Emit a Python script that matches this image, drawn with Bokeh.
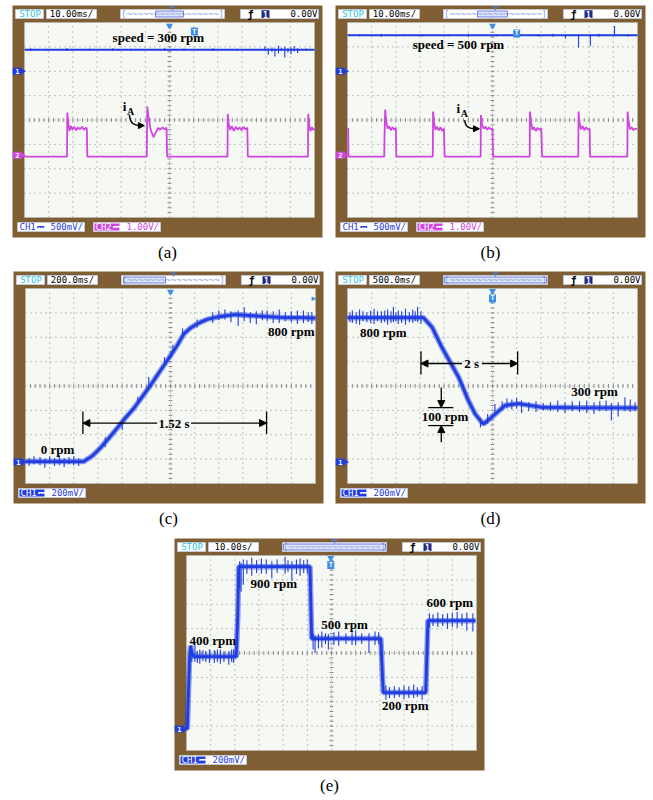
from bokeh.plotting import figure
from bokeh.models import Range1d, Arrow, NormalHead
from bokeh.embed import file_html
from bokeh.resources import INLINE
from bokeh.core.properties import value

W, H = 653, 800
BEZEL = "#7f5e33"
SCREEN = "#f5f8f3"
GRID = "#8a8a8a"
BLUE = "#1f3de0"
MAGENTA = "#cf45e0"
CYAN = "#2cc6e6"
MONO = value("DejaVu Sans Mono")
SERIF = value("Liberation Serif")

# speed sensor gain on CH1 (mV per rpm)
SPEED_MV_PER_RPM = 200 / 135.5

# ---------------- (a) 10 ms/div, steady 300 rpm ----------------
a_speed_t = [0, 120]
a_speed_rpm = [300, 300]
a_spike_t = [2.5, 9.0, 17.5, 27.0, 36.5, 44.0, 58.0, 66.0, 78.0, 88.0, 99.5, 100.9,
             102.4, 103.6, 105.1, 106.3, 107.7, 109.0, 110.3, 111.6, 113.0, 116.5]
a_spike_lo = [285, 290, 280, 288, 285, 290, 283, 287, 285, 290, 285, 230,
              270, 205, 245, 280, 190, 260, 235, 275, 255, 285]
a_spike_hi = [318, 312, 322, 315, 318, 312, 320, 316, 318, 314, 345, 320,
              330, 315, 355, 325, 340, 320, 330, 350, 320, 315]
# phase current iA on CH2 (V), pairs of (ms, V)
a_ia = [(0, 0), (17.6, 0), (17.7, 1.80), (18.1, 1.40), (18.6, 1.05), (19.2, 1.25),
        (19.9, 1.10), (20.6, 1.22), (21.4, 1.08), (22.2, 1.20), (23.0, 1.12),
        (23.8, 1.22), (24.6, 1.10), (25.4, 1.18), (25.8, 1.15), (26.0, 0),
        (50.6, 0), (50.8, 2.05), (51.3, 1.65), (52.2, 1.10), (53.4, 0.80),
        (54.4, 1.00), (55.3, 1.18), (56.2, 1.10), (57.1, 1.20), (58.0, 1.12),
        (58.8, 1.18), (59.0, 0),
        (84.0, 0), (84.1, 1.75), (84.5, 1.35), (85.1, 1.10), (85.8, 1.25),
        (86.6, 1.05), (87.4, 1.22), (88.2, 1.10), (89.0, 1.20), (89.8, 1.08),
        (90.6, 1.22), (91.4, 1.12), (92.2, 1.18), (92.4, 0),
        (117.3, 0), (117.4, 1.75), (117.8, 1.30), (118.3, 1.05), (118.9, 1.20),
        (119.5, 1.10), (120, 1.15)]

# ---------------- (b) 10 ms/div, steady 500 rpm ----------------
b_speed_t = [0, 120]
b_speed_rpm = [500, 500]
b_spike_t = [5.0, 14.0, 23.0, 31.0, 42.0, 50.0, 62.0, 70.5, 79.0, 85.0, 90.2,
             95.6, 100.5, 104.0, 110.5, 116.0]
b_spike_lo = [485, 480, 488, 482, 486, 480, 484, 470, 483, 478, 455, 330, 350, 480, 490, 484]
b_spike_hi = [515, 520, 512, 518, 516, 522, 515, 525, 517, 520, 515, 510, 515, 520, 630, 516]
b_ia = [(0, 1.15), (0.3, 1.15), (0.4, 0),
        (15.2, 0), (15.3, 0.7), (15.6, 1.93), (16.0, 1.45), (16.6, 1.15), (17.2, 1.25),
        (17.9, 1.08), (18.6, 1.20), (19.3, 1.10), (20.0, 1.18), (20.2, 0),
        (35.3, 0), (35.4, 1.85), (35.8, 1.40), (36.4, 1.10), (37.1, 1.22), (37.8, 1.08),
        (38.5, 1.20), (39.2, 1.05), (39.9, 1.15), (40.2, 0),
        (55.1, 0), (55.2, 1.70), (55.7, 1.30), (56.4, 1.15), (57.1, 1.22), (57.8, 1.10),
        (58.5, 1.20), (59.3, 1.12), (60.0, 1.15), (60.2, 0),
        (75.4, 0), (75.5, 1.85), (75.9, 1.45), (76.5, 1.10), (77.2, 1.20), (77.9, 1.05),
        (78.6, 1.18), (79.4, 1.10), (80.2, 1.15), (80.5, 0),
        (95.5, 0), (95.6, 1.85), (96.0, 1.40), (96.6, 1.12), (97.3, 1.25), (98.0, 1.08),
        (98.7, 1.20), (99.5, 1.10), (100.2, 1.15), (100.4, 0),
        (115.8, 0), (115.9, 1.85), (116.3, 1.45), (116.9, 1.12), (117.6, 1.20),
        (118.3, 1.08), (119.0, 1.15), (120, 1.12)]

# ---------------- (c) 200 ms/div, start-up 0 -> 800 rpm ----------------
c_t = [0, 0.48, 0.55, 0.62, 0.69, 0.76, 0.83, 0.90, 0.97, 1.04, 1.11, 1.18, 1.25,
       1.31, 1.36, 1.40, 1.45, 1.51, 1.60, 1.73, 1.85, 2.00, 2.15, 2.30, 2.40]
c_rpm = [0, 0, 30, 76, 130, 187, 245, 299, 364, 429, 499, 569, 640,
         709, 740, 757, 775, 792, 805, 817, 812, 806, 800, 800, 797]
c_spike_t = [0.03, 0.07, 0.12, 0.16, 0.20, 0.24, 0.28, 0.32, 0.36, 0.40, 0.44,
             0.66, 0.80, 0.93, 1.02, 1.15, 1.22, 1.30, 1.42,
             1.55, 1.60, 1.65, 1.70, 1.76, 1.81, 1.86, 1.91, 1.96, 2.00, 2.05,
             2.10, 2.15, 2.20, 2.25, 2.30, 2.34, 2.37]
c_spike_lo = [-25, -15, -20, -35, -10, -25, -20, -30, -15, -20, -25,
              80, 175, 330, 420, 530, 610, 690, 745,
              770, 785, 790, 775, 754, 780, 770, 764, 785, 780, 770,
              770, 780, 775, 765, 770, 775, 765]
c_spike_hi = [20, 30, 25, 15, 30, 20, 35, 20, 25, 30, 20,
              135, 230, 360, 470, 580, 650, 740, 790,
              830, 840, 845, 835, 840, 858, 830, 835, 840, 840, 835,
              845, 830, 835, 840, 840, 830, 830]
c_span_start, c_span = 0.475, 1.52

# ---------------- (d) 500 ms/div, 800 -> 300 rpm ----------------
d_t = [0, 1.57, 1.75, 1.95, 2.30, 2.50, 2.64, 2.81, 2.98, 3.26, 3.53, 4.01, 4.70, 6.0]
d_rpm = [800, 800, 747, 636, 469, 340, 265, 208, 246, 312, 322, 302, 300, 298]
d_spike_t = [0.05, 0.10, 0.18, 0.25, 0.32, 0.40, 0.48, 0.55, 0.62, 0.70, 0.77, 0.83,
             0.90, 0.95, 1.00, 1.05, 1.12, 1.20, 1.28, 1.35, 1.40, 1.45, 1.52,
             2.75, 2.90, 3.05, 3.20, 3.30, 3.40, 3.50, 3.60, 3.75, 3.90, 4.05,
             4.20, 4.35, 4.50, 4.65, 4.80, 4.95, 5.10, 5.22, 5.35, 5.46, 5.60,
             5.74, 5.85, 5.95]
d_spike_lo = [775, 770, 765, 760, 780, 775, 770, 765, 780, 770, 775, 760,
              770, 775, 780, 765, 770, 760, 775, 770, 780, 775, 765,
              190, 210, 260, 285, 295, 290, 295, 270, 280, 275, 285,
              280, 275, 270, 280, 275, 270, 265, 280, 280, 228, 250,
              280, 275, 280]
d_spike_hi = [830, 840, 830, 845, 835, 830, 840, 850, 835, 835, 840, 845,
              835, 860, 830, 840, 835, 850, 830, 845, 835, 860, 835,
              240, 265, 320, 335, 350, 345, 355, 340, 330, 335, 325,
              330, 340, 330, 335, 335, 340, 330, 335, 340, 325, 330,
              358, 345, 330]
d_span_start, d_span = 1.52, 2.0
d_level, d_dip = 300, 200

# ---------------- (e) 10 s/div, speed steps ----------------
e_t = [0, 0.35, 0.8, 1.3, 1.7, 2.3, 3.0, 20.6, 20.9, 21.2, 21.6, 51.1, 51.8,
       80.4, 81.4, 99.0, 99.9, 119.6]
e_rpm = [0, 0, 200, 400, 460, 420, 400, 400, 520, 620, 900, 900, 500,
         500, 200, 200, 600, 600]
e_spike_t = [2.2, 3.5, 4.5, 5.5, 6.8, 8.0, 9.5, 11.5, 12.8, 14.0, 15.5, 17.5, 18.7, 19.5,
             22.0, 22.6, 23.5, 25.0, 27.0, 29.0, 31.0, 33.0, 35.3, 37.5, 40.8, 42.0,
             43.6, 45.5, 47.0, 48.5, 50.0,
             52.4, 53.2, 54.6, 56.0, 57.5, 58.7, 61.0, 63.0, 66.0, 68.5, 70.0, 72.5,
             75.5, 78.0, 79.5,
             82.5, 84.0, 86.0, 88.0, 90.0, 92.0, 94.0, 95.5, 97.5,
             100.5, 102.0, 104.0, 106.0, 108.0, 110.0, 112.0, 114.0, 116.0, 118.5]
e_spike_lo = [370, 370, 365, 360, 375, 370, 365, 365, 370, 360, 370, 355, 370, 365,
              780, 760, 800, 860, 850, 865, 860, 860, 835, 865, 860, 870,
              820, 860, 850, 865, 860,
              440, 420, 445, 450, 470, 440, 465, 460, 470, 465, 465, 470,
              420, 465, 470,
              160, 170, 170, 175, 165, 170, 170, 175, 160,
              560, 570, 565, 570, 555, 565, 560, 570, 545, 540]
e_spike_hi = [440, 470, 430, 440, 435, 430, 440, 435, 440, 440, 430, 430, 440, 440,
              930, 920, 940, 935, 950, 935, 945, 940, 930, 940, 955, 935,
              930, 940, 945, 935, 940,
              530, 520, 525, 540, 530, 525, 535, 540, 530, 535, 545, 530,
              530, 540, 535,
              240, 230, 235, 230, 240, 235, 245, 230, 235,
              640, 635, 645, 635, 640, 645, 650, 640, 645, 640]

# ---------------- scope geometry ----------------
FRAMES = {"a": (12, 5), "b": (335, 5), "c": (13, 271), "d": (335, 271), "e": (174, 538)}
T_DIV = {"a": 10, "b": 10, "c": 0.2, "d": 0.5, "e": 10}
CHANNELS = {
    "a": {"ch1": (500 / SPEED_MV_PER_RPM, 6.0), "ch2": (1.0, 2.5)},
    "b": {"ch1": (500 / SPEED_MV_PER_RPM, 6.0), "ch2": (1.0, 2.5)},
    "c": {"ch1": (200 / SPEED_MV_PER_RPM, 0.9)},
    "d": {"ch1": (200 / SPEED_MV_PER_RPM, 0.9)},
    "e": {"ch1": (200 / SPEED_MV_PER_RPM, 0.9)},
}
DW, DH = 290 / 12, 195 / 8

p = figure(width=W, height=H, x_range=Range1d(0, W), y_range=Range1d(H, 0),
           output_backend="svg", toolbar_location=None,
           x_axis_type=None, y_axis_type=None, min_border=0)
p.outline_line_color = None
p.background_fill_color = "white"
p.border_fill_color = "white"

xr, yr = {}, {}
for key, (fx, fy) in FRAMES.items():
    sx0, sy1 = fx + 12, fy + 212
    td = T_DIV[key]
    xr[key] = Range1d(-sx0 / DW * td, (W - sx0) / DW * td)
    xr[key + "_div"] = Range1d(-sx0 / DW, (W - sx0) / DW)
    yr[key + "_div"] = Range1d((sy1 - H) / DH, sy1 / DH)
    for ch, (per, zero) in CHANNELS[key].items():
        yr[f"{key}_{ch}"] = Range1d(((sy1 - H) / DH - zero) * per, (sy1 / DH - zero) * per)
p.extra_x_ranges = xr
p.extra_y_ranges = yr


def mono(x, y, s, color, size="9px", align="left", style="normal"):
    p.text(x=[x], y=[y], text=[s], text_font=MONO, text_font_size=size,
           text_color=color, text_align=align, text_baseline="middle",
           text_font_style=style)


def chrome(key, timebase, win, ch1_setting, ch1_hl, ch2_setting=None):
    fx, fy = FRAMES[key]
    sx0, sy0 = fx + 12, fy + 17
    p.quad(left=[fx], right=[fx + 310], top=[fy], bottom=[fy + 232],
           fill_color=BEZEL, line_color=None)
    p.quad(left=[sx0], right=[sx0 + 290], top=[sy0], bottom=[sy0 + 195],
           fill_color=SCREEN, line_color="#b5b9b2", line_width=0.8)
    boxes = [(3, 31), (34, 84), (108, 212), (228, 306)]
    p.quad(left=[fx + a for a, b in boxes], right=[fx + b for a, b in boxes],
           top=fy + 4, bottom=fy + 13, fill_color="white",
           line_color="#c6cde2", line_width=0.8)
    mono(fx + 17.5, fy + 8.7, "STOP", CYAN, align="center")
    mono(fx + 59, fy + 8.7, timebase, "black", align="center")
    mono(fx + 160, fy + 8.9, "[" + "~" * 17 + "]", "#8ea2e6", size="9px", align="center")
    p.quad(left=[fx + win[0]], right=[fx + win[1]], top=fy + 5.5, bottom=fy + 11.5,
           fill_color="#9fb0f0", fill_alpha=0.35, line_color="#5468d8", line_width=0.8)
    p.segment(x0=[fx + 157, fx + 160], y0=[fy + 1.5, fy + 1.5],
              x1=[fx + 163, fx + 160], y1=[fy + 1.5, fy + 5], line_color="#4a80e0", line_width=1.2)
    mono(fx + 238, fy + 8.7, "ƒ", "black", size="10px", align="center", style="bold")
    p.quad(left=[fx + 249], right=[fx + 257], top=fy + 4.8, bottom=fy + 12.6,
           fill_color="#1d2a8a", line_color=None)
    mono(fx + 253, fy + 8.9, "1", "white", size="8px", align="center", style="bold")
    mono(fx + 305, fy + 8.7, "0.00V", "black", align="right")
    # channel settings along the bottom edge
    by = fy + 221.5
    p.quad(left=[fx + 5], right=[fx + 72], top=fy + 217, bottom=fy + 226,
           fill_color="white", line_color="#c6cde2", line_width=0.8)
    if ch1_hl:
        p.quad(left=[fx + 6], right=[fx + 31], top=fy + 218, bottom=fy + 225,
               fill_color=BLUE, line_color=None)
        mono(fx + 7, by, "CH1", "white")
        mono(fx + 24, by, "⎓", "white")
    else:
        mono(fx + 7, by, "CH1", BLUE)
        mono(fx + 24, by, "⎓", BLUE)
    mono(fx + 38, by, ch1_setting, BLUE)
    if ch2_setting:
        p.quad(left=[fx + 81], right=[fx + 148], top=fy + 217, bottom=fy + 226,
               fill_color="white", line_color="#c6cde2", line_width=0.8)
        p.quad(left=[fx + 82], right=[fx + 107], top=fy + 218, bottom=fy + 225,
               fill_color=MAGENTA, line_color=None)
        mono(fx + 83, by, "CH2", "white")
        mono(fx + 100, by, "⎓", "white")
        mono(fx + 114, by, ch2_setting, MAGENTA)
    # panel caption
    p.text(x=[fx + 155], y=[fy + 247], text=[f"({key})"], text_font=SERIF,
           text_font_size="17px", text_color="black", text_align="center",
           text_baseline="middle")


def grid(key):
    kw = dict(x_range_name=key + "_div", y_range_name=key + "_div")
    xs = list(range(1, 12))
    ys = list(range(1, 8))
    p.segment(x0=xs, y0=0, x1=xs, y1=8, line_color=GRID, line_width=1, line_dash="1 4", **kw)
    p.segment(x0=0, y0=ys, x1=12, y1=ys, line_color=GRID, line_width=1, line_dash="1 4", **kw)
    ty = [k * 0.2 for k in range(1, 40)]
    tx = [k * 0.2 for k in range(1, 60)]
    p.segment(x0=5.92, y0=ty, x1=6.08, y1=ty, line_color=GRID, line_width=1, **kw)
    p.segment(x0=tx, y0=3.92, x1=tx, y1=4.08, line_color=GRID, line_width=1, **kw)


def channel_tag(key, zero, label, color):
    kw = dict(x_range_name=key + "_div", y_range_name=key + "_div")
    p.rect(x=[-0.3], y=[zero], width=9, height=7, width_units="screen",
           height_units="screen", fill_color=color, line_color=None, **kw)
    p.scatter(x=[-0.08], y=[zero], marker="triangle", angle=-1.5708, size=6,
              fill_color=color, line_color=None, **kw)
    p.text(x=[-0.3], y=[zero], text=[label], text_font=MONO, text_font_size="7px",
           text_font_style="bold", text_color="white", text_align="center",
           text_baseline="middle", **kw)


def trig_square(key, x, y):
    kw = dict(x_range_name=key + "_div", y_range_name=key + "_div")
    p.rect(x=[x], y=[y], width=7, height=8, width_units="screen", height_units="screen",
           fill_color="#3d8de8", line_color=None, **kw)
    p.text(x=[x], y=[y], text=["T"], text_font=MONO, text_font_size="7px",
           text_font_style="bold", text_color="white", text_align="center",
           text_baseline="middle", **kw)


def top_marker(key, x=6.0, y=7.87):
    p.scatter(x=[x], y=[y], marker="inverted_triangle", size=7, fill_color="#3d8de8",
              line_color=None, x_range_name=key + "_div", y_range_name=key + "_div")


def label(key, ch, x, y, s, size="13px"):
    p.text(x=[x], y=[y], text=[s], text_font=SERIF, text_font_style="bold",
           text_font_size=size, text_color="black", text_align="center",
           text_baseline="middle", x_range_name=key, y_range_name=f"{key}_{ch}")


def arrow(key, ch, x0, y0, x1, y1, size=7):
    p.add_layout(Arrow(end=NormalHead(size=size, fill_color="black", line_color="black"),
                       x_start=x0, y_start=y0, x_end=x1, y_end=y1, line_width=1.3,
                       line_color="black", x_range_name=key, y_range_name=f"{key}_{ch}"))


def bar(key, ch, x0, x1, y0, y1):
    p.segment(x0=[x0], y0=[y0], x1=[x1], y1=[y1], line_color="black", line_width=1.3,
              x_range_name=key, y_range_name=f"{key}_{ch}")


def speed(key, t, rpm, st, lo, hi, lw, band=0):
    kw = dict(x_range_name=key, y_range_name=key + "_ch1")
    if band:
        # fuzzy envelope of the sampled trace
        p.line(t, rpm, line_color=BLUE, line_width=band, line_alpha=0.5, **kw)
    p.segment(x0=st, y0=lo, x1=st, y1=hi, line_color=BLUE, line_width=1.1, **kw)
    p.line(t, rpm, line_color=BLUE, line_width=lw, **kw)


# ---- screens ----
chrome("a", "10.00ms/", (143, 171), "500mV/", False, "1.00V/")
chrome("b", "10.00ms/", (142, 172), "500mV/", False, "1.00V/")
chrome("c", "200.0ms/", (110, 152), "200mV/", True)
chrome("d", "500.0ms/", (109, 211), "200mV/", True)
chrome("e", "10.00s/", (109, 211), "200mV/", True)
for k in FRAMES:
    grid(k)

# ---- (a) ----
speed("a", a_speed_t, a_speed_rpm, a_spike_t, a_spike_lo, a_spike_hi, 2)
p.line([t for t, v in a_ia], [v for t, v in a_ia], line_color=MAGENTA, line_width=1.8,
       x_range_name="a", y_range_name="a_ch2")
channel_tag("a", 6.0, "1", BLUE)
channel_tag("a", 2.55, "2", MAGENTA)
top_marker("a")
trig_square("a", 7.03, 7.63)
label("a", "ch1", 55.4, 469, "speed = 300 rpm")
p.text(x=[41.4], y=[2.07], text=["i"], text_font=SERIF, text_font_style="bold",
       text_font_size="13px", text_align="center", text_baseline="middle",
       x_range_name="a", y_range_name="a_ch2")
p.text(x=[43.9], y=[1.86], text=["A"], text_font=SERIF, text_font_style="bold",
       text_font_size="10px", text_align="center", text_baseline="middle",
       x_range_name="a", y_range_name="a_ch2")
p.bezier(x0=[43.4], y0=[1.72], x1=[48.4], y1=[1.27], cx0=[43.6], cy0=[1.35],
         cx1=[45.5], cy1=[1.27], line_color="black", line_width=1.4,
         x_range_name="a", y_range_name="a_ch2")
arrow("a", "ch2", 48.0, 1.27, 49.6, 1.27, size=6)

# ---- (b) ----
speed("b", b_speed_t, b_speed_rpm, b_spike_t, b_spike_lo, b_spike_hi, 2)
p.line([t for t, v in b_ia], [v for t, v in b_ia], line_color=MAGENTA, line_width=1.8,
       x_range_name="b", y_range_name="b_ch2")
channel_tag("b", 6.0, "1", BLUE)
channel_tag("b", 2.55, "2", MAGENTA)
top_marker("b")
trig_square("b", 7.0, 7.55)
label("b", "ch1", 45.9, 372, "speed = 500 rpm")
p.text(x=[45.9], y=[1.96], text=["i"], text_font=SERIF, text_font_style="bold",
       text_font_size="13px", text_align="center", text_baseline="middle",
       x_range_name="b", y_range_name="b_ch2")
p.text(x=[48.4], y=[1.78], text=["A"], text_font=SERIF, text_font_style="bold",
       text_font_size="10px", text_align="center", text_baseline="middle",
       x_range_name="b", y_range_name="b_ch2")
p.bezier(x0=[48.5], y0=[1.5], x1=[53.4], y1=[1.14], cx0=[48.7], cy0=[1.2],
         cx1=[50.5], cy1=[1.14], line_color="black", line_width=1.4,
         x_range_name="b", y_range_name="b_ch2")
arrow("b", "ch2", 53.0, 1.14, 54.6, 1.14, size=6)

# ---- (c) ----
speed("c", c_t, c_rpm, c_spike_t, c_spike_lo, c_spike_hi, 2.8, band=5.5)
channel_tag("c", 0.88, "1", BLUE)
top_marker("c")
p.text(x=[11.93], y=[7.6], text=["▸"], text_font=value("DejaVu Sans"), text_font_size="9px",
       text_color="#3d8de8", text_align="center", text_baseline="middle",
       x_range_name="c_div", y_range_name="c_div")
label("c", "ch1", 2.2, 724, "800 rpm")
label("c", "ch1", 0.266, 69, "0 rpm")
c_mid = c_span_start + c_span * 0.5 - 0.005
label("c", "ch1", c_mid, 214, "1.52 s")
arrow("c", "ch1", c_mid - 0.14, 214, c_span_start, 214)
arrow("c", "ch1", c_mid + 0.14, 214, c_span_start + c_span, 214)
bar("c", "ch1", c_span_start, c_span_start, 153, 278)
bar("c", "ch1", c_span_start + c_span, c_span_start + c_span, 153, 278)

# ---- (d) ----
speed("d", d_t, d_rpm, d_spike_t, d_spike_lo, d_spike_hi, 2.8, band=5.5)
channel_tag("d", 0.88, "1", BLUE)
top_marker("d", 6.0, 7.9)
trig_square("d", 6.0, 7.59)
label("d", "ch1", 0.742, 720, "800 rpm")
label("d", "ch1", 5.11, 388, "300 rpm")
label("d", "ch1", 2.57, 545, "2 s")
arrow("d", "ch1", 2.37, 545, d_span_start, 545)
arrow("d", "ch1", 2.78, 545, d_span_start + d_span, 545)
bar("d", "ch1", d_span_start, d_span_start, 484, 613)
bar("d", "ch1", d_span_start + d_span, d_span_start + d_span, 484, 613)
bar("d", "ch1", 1.67, 2.19, d_level, d_level)
bar("d", "ch1", 1.67, 2.19, d_dip, d_dip)
arrow("d", "ch1", 1.94, 412, 1.94, d_level)
arrow("d", "ch1", 1.94, 107, 1.94, d_dip)
label("d", "ch1", 2.02, 252, "100 rpm")

# ---- (e) ----
speed("e", e_t, e_rpm, e_spike_t, e_spike_lo, e_spike_hi, 2.8, band=5.5)
channel_tag("e", 0.88, "1", BLUE)
top_marker("e", 5.97, 7.9)
trig_square("e", 5.97, 7.61)
label("e", "ch1", 10.9, 492, "400 rpm")
label("e", "ch1", 36.1, 809, "900 rpm")
label("e", "ch1", 65.4, 576, "500 rpm")
label("e", "ch1", 90.5, 126, "200 rpm")
label("e", "ch1", 108.9, 703, "600 rpm")

open("out.html", "w").write(file_html(p, INLINE))
